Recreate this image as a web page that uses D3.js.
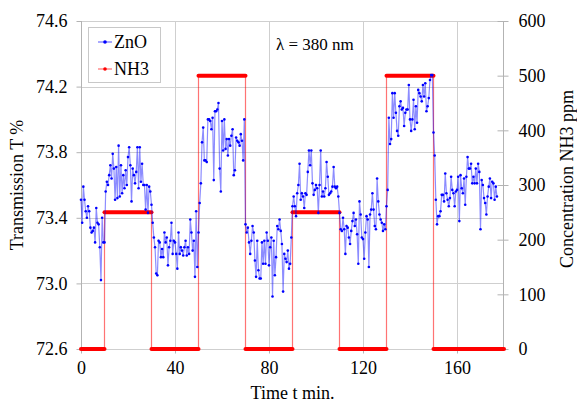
<!DOCTYPE html>
<html>
<head>
<meta charset="utf-8">
<script src="https://cdn.jsdelivr.net/npm/d3@7"></script>
<style>
  html, body { margin: 0; padding: 0; background: #fff; }
  svg { display: block; }
  svg text { font-family: "Liberation Serif", "Tinos", "DejaVu Serif", serif !important; fill: #000; }
</style>
</head>
<body>
<svg id="chart" width="577" height="403"></svg>
<script>
// ZnO transmission (%) sampled every half minute from t = 0
const sampleStep = 0.5;
const zno = [
  // 0 - 9.5 min
  73.51, 73.37, 73.59, 73.51, 73.44, 73.40, 73.47, 73.44, 73.34, 73.31,
  73.32, 73.34, 73.25, 73.46, 73.37, 73.36, 73.22, 73.02, 73.40, 73.25,
  // 10 - 29.5 min
  73.25, 73.56, 73.62, 73.60, 73.66, 73.72, 73.64, 73.79, 73.70, 73.51,
  73.71, 73.52, 73.84, 73.53, 73.72, 73.55, 73.66, 73.58, 73.69, 73.60,
  73.77, 73.83, 73.72, 73.50, 73.70, 73.66, 73.61, 73.68, 73.83, 73.58,
  73.83, 73.62, 73.73, 73.60, 73.60, 73.45, 73.60, 73.43, 73.59, 73.56,
  // 30 - 49.5 min
  73.48, 73.37, 73.28, 73.22, 73.06, 73.05, 73.26, 73.25, 73.16, 73.21,
  73.16, 73.31, 73.25, 73.28, 73.11, 73.22, 73.26, 73.37, 73.18, 73.26,
  73.25, 73.18, 73.09, 73.31, 73.18, 73.22, 73.20, 73.17, 73.22, 73.26,
  73.17, 73.22, 73.18, 73.39, 73.31, 73.20, 73.26, 73.04, 73.44, 73.10,
  // 50 - 69.5 min
  73.31, 73.49, 73.61, 73.86, 73.95, 73.75, 73.75, 73.74, 74.00, 74.00,
  73.99, 73.94, 74.01, 73.63, 74.05, 74.05, 74.06, 74.10, 73.70, 73.56,
  73.99, 73.81, 74.00, 73.82, 73.88, 73.78, 73.88, 73.84, 73.90, 73.94,
  73.66, 73.69, 73.89, 73.87, 73.86, 73.84, 73.91, 73.87, 73.75, 74.00,
  // 70 - 89.5 min
  73.36, 73.31, 73.34, 73.25, 73.18, 73.26, 73.35, 73.31, 73.14, 73.04,
  73.26, 73.08, 73.03, 73.03, 73.25, 73.12, 73.26, 73.12, 73.31, 73.26,
  73.11, 73.22, 73.28, 72.92, 73.26, 73.05, 73.16, 73.35, 73.33, 73.39,
  73.32, 73.24, 72.95, 73.18, 73.15, 73.13, 73.20, 73.09, 73.12, 73.28,
  // 90 - 109.5 min
  73.47, 73.53, 73.47, 73.41, 73.55, 73.60, 73.73, 73.51, 73.55, 73.53,
  73.46, 73.55, 73.54, 73.68, 73.81, 73.72, 73.81, 73.61, 73.54, 73.57,
  73.60, 73.58, 73.43, 73.60, 73.81, 73.53, 73.56, 73.53, 73.58, 73.74,
  73.65, 73.54, 73.55, 73.56, 73.59, 73.71, 73.59, 73.58, 73.59, 73.53,
  // 110 - 129.5 min
  73.43, 73.33, 73.32, 73.40, 73.33, 73.18, 73.35, 73.34, 73.28, 73.24,
  73.32, 73.38, 73.43, 73.35, 73.39, 73.30, 73.12, 73.50, 73.42, 73.28,
  73.27, 73.15, 73.31, 73.41, 73.39, 73.10, 73.42, 73.45, 73.55, 73.45,
  73.35, 73.33, 73.64, 73.50, 73.42, 73.39, 73.37, 73.32, 73.36, 73.33,
  // 130 - 149.5 min
  73.47, 73.57, 74.01, 73.85, 73.88, 74.16, 74.01, 74.16, 74.04, 73.93,
  73.90, 74.08, 74.11, 74.06, 74.07, 73.96, 74.04, 74.06, 74.06, 74.21,
  74.00, 73.93, 74.00, 74.12, 73.94, 74.08, 73.98, 74.18, 74.16, 74.14,
  74.11, 74.21, 74.14, 74.22, 74.05, 74.08, 74.13, 74.24, 74.27, 74.27,
  // 150 - 169.5 min
  73.92, 73.78, 73.51, 73.36, 73.41, 73.41, 73.44, 73.54, 73.54, 73.50,
  73.67, 73.55, 73.51, 73.47, 73.52, 73.65, 73.57, 73.55, 73.47, 73.56,
  73.57, 73.65, 73.38, 73.66, 73.58, 73.55, 73.64, 73.48, 73.65, 73.77,
  73.70, 73.70, 73.73, 73.61, 73.65, 73.61, 73.70, 73.61, 73.73, 73.68,
  // 170 - 177 min
  73.33, 73.63, 73.60, 73.52, 73.49, 73.42, 73.53, 73.59, 73.64, 73.52,
  73.62, 73.61, 73.51, 73.59, 73.53
];

// NH3 concentration (ppm): level held between consecutive switch times
const nh3Times  = [0, 10, 30, 50, 70, 90, 110, 130, 150, 180];
const nh3Levels = [0, 250, 0, 500, 0, 250, 0, 500, 0];

const xTicks      = [0, 40, 80, 120, 160];
const leftTicks   = [72.6, 73.0, 73.4, 73.8, 74.2, 74.6];
const rightTicks  = [0, 100, 200, 300, 400, 500, 600];
const seriesNames = ["ZnO", "NH3"];

const serif = '"Liberation Serif", "Tinos", "DejaVu Serif", serif';
const svg = d3.select("#chart");
const plot = { left: 81, right: 504, top: 21, bottom: 349 };

const x  = d3.scaleLinear().domain([0, 180]).range([plot.left, plot.right]);
const yL = d3.scaleLinear().domain([72.6, 74.6]).range([plot.bottom, plot.top]);
const yR = d3.scaleLinear().domain([0, 600]).range([plot.bottom, plot.top]);

const gridColor = "#cfcfcf";
const axisColor = "#b3b3b3";

// grid
const grid = svg.append("g");
grid.selectAll("line.h").data(leftTicks).join("line")
  .attr("x1", plot.left).attr("x2", plot.right)
  .attr("y1", d => Math.round(yL(d)) + 0.5).attr("y2", d => Math.round(yL(d)) + 0.5)
  .attr("stroke", gridColor).attr("stroke-width", 1);
grid.selectAll("line.v").data(xTicks.slice(1)).join("line")
  .attr("y1", plot.top).attr("y2", plot.bottom)
  .attr("x1", d => Math.round(x(d)) + 0.5).attr("x2", d => Math.round(x(d)) + 0.5)
  .attr("stroke", gridColor).attr("stroke-width", 1);

// axes
const fontSize = 18;
const xAxis = svg.append("g")
  .attr("transform", `translate(0,${plot.bottom + 0.5})`)
  .call(d3.axisBottom(x).tickValues(xTicks).tickFormat(d3.format("d")).tickSize(4).tickPadding(8));
const leftAxis = svg.append("g")
  .attr("transform", `translate(${plot.left + 0.5},0)`)
  .call(d3.axisLeft(yL).tickValues(leftTicks).tickFormat(d3.format(".1f")).tickSize(5).tickPadding(9));
const rightAxis = svg.append("g")
  .attr("transform", `translate(${plot.right - 0.5},0)`)
  .call(d3.axisRight(yR).tickValues(rightTicks).tickFormat(d3.format("d")).tickSize(5).tickPadding(10));
// right-axis ticks cross the axis line
rightAxis.selectAll(".tick line").attr("x1", -6);

[xAxis, leftAxis, rightAxis].forEach(g => {
  g.attr("font-family", serif).attr("font-size", fontSize);
  g.select(".domain").attr("stroke", axisColor);
  g.selectAll(".tick line").attr("stroke", axisColor);
  g.selectAll(".tick text").attr("fill", "#000");
});
leftAxis.select(".domain").attr("d", `M0,${plot.bottom}V${plot.top}`);
rightAxis.select(".domain").attr("d", `M0,${plot.bottom}V${plot.top}`);
xAxis.select(".domain").attr("d", `M${plot.left},0H${plot.right}`).attr("stroke", gridColor);

// NH3 step line (thin) with thick plateaus
const nh3Pts = [];
nh3Levels.forEach((lv, i) => {
  nh3Pts.push([nh3Times[i], lv]);
  nh3Pts.push([nh3Times[i + 1], lv]);
});
svg.append("path")
  .datum(nh3Pts)
  .attr("fill", "none")
  .attr("stroke", "rgba(255,0,0,0.55)")
  .attr("stroke-width", 1.2)
  .attr("d", d3.line().x(d => x(d[0])).y(d => yR(d[1])));
svg.append("g").selectAll("line").data(nh3Levels).join("line")
  .attr("x1", (d, i) => x(nh3Times[i]))
  .attr("x2", (d, i) => x(nh3Times[i + 1]))
  .attr("y1", d => yR(d)).attr("y2", d => yR(d))
  .attr("stroke", "#ff0000").attr("stroke-width", 4).attr("stroke-linecap", "round");

// ZnO series
const znoPts = zno.map((v, i) => [i * sampleStep, v]);
svg.append("path")
  .datum(znoPts)
  .attr("fill", "none")
  .attr("stroke", "rgba(0,0,255,0.45)")
  .attr("stroke-width", 1.2)
  .attr("d", d3.line().x(d => x(d[0])).y(d => yL(d[1])));
svg.append("g").selectAll("circle").data(znoPts).join("circle")
  .attr("cx", d => x(d[0])).attr("cy", d => yL(d[1]))
  .attr("r", 1.3).attr("fill", "#0000ff");

// legend
const legend = svg.append("g").attr("font-family", serif);
legend.append("rect")
  .attr("x", 88.5).attr("y", 27.5).attr("width", 72).attr("height", 55)
  .attr("fill", "#fff").attr("stroke", "#c8c8c8");
const legendColors = [
  { line: "rgba(0,0,255,0.45)", dot: "#0000ff" },
  { line: "rgba(255,0,0,0.45)", dot: "#ff0000" }
];
seriesNames.forEach((name, i) => {
  const cy = 42 + i * 27;
  legend.append("line")
    .attr("x1", 98).attr("x2", 112).attr("y1", cy).attr("y2", cy)
    .attr("stroke", legendColors[i].line).attr("stroke-width", 1.5);
  legend.append("circle").attr("cx", 105).attr("cy", cy).attr("r", 1.8)
    .attr("fill", legendColors[i].dot);
  legend.append("text").attr("x", 114).attr("y", cy + 6)
    .attr("font-size", 18).text(name);
});

// wavelength note
svg.append("text").attr("x", 276).attr("y", 50)
  .attr("font-family", serif).attr("font-size", 17).text("λ = 380 nm");

// axis titles
svg.append("text")
  .attr("transform", `translate(23,${(plot.top + plot.bottom) / 2}) rotate(-90)`)
  .attr("text-anchor", "middle").attr("font-family", serif).attr("font-size", 18)
  .text("Transmission T %");
svg.append("text")
  .attr("transform", `translate(573,${(plot.top + plot.bottom) / 2 - 6}) rotate(-90)`)
  .attr("text-anchor", "middle").attr("font-family", serif).attr("font-size", 18)
  .text("Concentration NH3 ppm");
svg.append("text")
  .attr("x", (plot.left + plot.right) / 2).attr("y", 399)
  .attr("text-anchor", "middle").attr("font-family", serif).attr("font-size", 18)
  .text("Time t min.");
</script>
</body>
</html>
